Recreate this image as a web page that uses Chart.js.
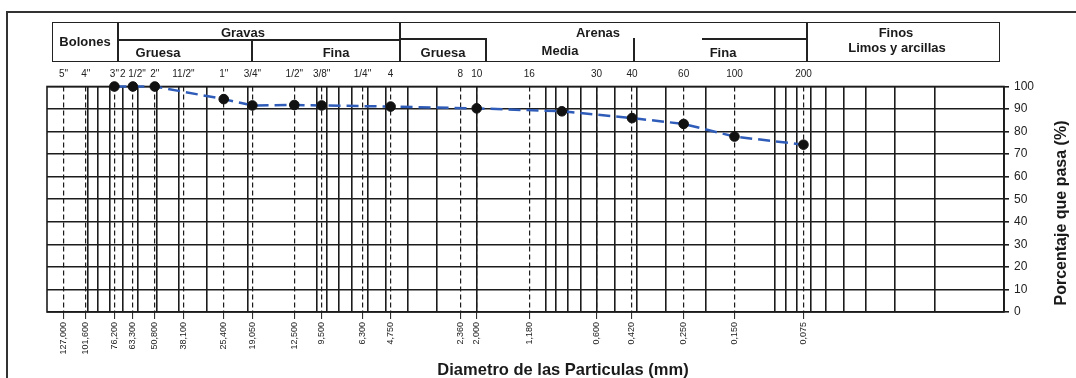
<!DOCTYPE html>
<html>
<head>
<meta charset="utf-8">
<title>Curva granulométrica</title>
<script src="https://cdn.jsdelivr.net/npm/chart.js@4.4.1/dist/chart.umd.min.js"></script>
<style>
  html, body { margin: 0; padding: 0; background: #ffffff; }
  #sheet { position: relative; width: 1076px; height: 378px; overflow: hidden;
           font-family: "Liberation Sans", Arial, sans-serif; color: #1a1a1a; }
  #chart { position: absolute; left: 0; top: 0; }
  .frame { position: absolute; left: 6px; top: 11px; width: 1200px; height: 500px;
           border-left: 2px solid #333; border-top: 2px solid #333; }
  .hl, .vl { position: absolute; background: #222; }
  .hl { height: 1.5px; }
  .vl { width: 1.5px; }
  .box { position: absolute; border: 1.5px solid #222; box-sizing: border-box; }
  .t { position: absolute; transform: translate(-50%, -50%); white-space: nowrap;
       font-weight: bold; font-size: 13px; line-height: 1; }
  .xtitle { position: absolute; left: 563px; top: 369px; transform: translate(-50%, -50%);
            font-weight: bold; font-size: 16.5px; white-space: nowrap; line-height: 1; }
  .ytitle { position: absolute; left: 1061px; top: 213px; transform: translate(-50%, -50%) rotate(-90deg);
            font-weight: bold; font-size: 16px; white-space: nowrap; line-height: 1; }
</style>
</head>
<body>
<div id="sheet">
  <canvas id="chart" width="1076" height="378"></canvas>
  <div class="frame"></div>

  <!-- soil classification header -->
  <div class="box" style="left:52px; top:22px; width:948px; height:40px;"></div>
  <div class="vl" style="left:117px; top:22px; height:40px;"></div>
  <div class="vl" style="left:399px; top:22px; height:40px;"></div>
  <div class="vl" style="left:806px; top:22px; height:40px;"></div>
  <div class="hl" style="left:117px; top:39px; width:283px;"></div>
  <div class="hl" style="left:399px; top:38px; width:88px;"></div>
  <div class="hl" style="left:702px; top:38px; width:105px;"></div>
  <div class="vl" style="left:251px; top:39px; height:23px;"></div>
  <div class="vl" style="left:485px; top:38px; height:24px;"></div>
  <div class="vl" style="left:633px; top:38px; height:24px;"></div>

  <div class="t" style="left:85px; top:41px;">Bolones</div>
  <div class="t" style="left:243px; top:32px;">Gravas</div>
  <div class="t" style="left:158px; top:52px;">Gruesa</div>
  <div class="t" style="left:336px; top:52px;">Fina</div>
  <div class="t" style="left:598px; top:32px;">Arenas</div>
  <div class="t" style="left:443px; top:52px;">Gruesa</div>
  <div class="t" style="left:560px; top:50px;">Media</div>
  <div class="t" style="left:723px; top:52px;">Fina</div>
  <div class="t" style="left:896px; top:32px;">Finos</div>
  <div class="t" style="left:897px; top:47px;">Limos y arcillas</div>

  <div class="xtitle">Diametro de las Particulas (mm)</div>
  <div class="ytitle">Porcentaje que pasa (%)</div>
</div>

<script>
// Sieve openings (mm) with their printed size and designation
const SIEVE_MM = [127, 101.6, 76.2, 63.3, 50.8, 38.1, 25.4, 19.05, 12.5, 9.5,
                  6.3, 4.75, 2.36, 2.0, 1.18, 0.6, 0.42, 0.25, 0.15, 0.075];
const SIEVE_MM_LABELS = ["127,000", "101,600", "76,200", "63,300", "50,800", "38,100",
                         "25,400", "19,050", "12,500", "9,500", "6,300", "4,750",
                         "2,360", "2,000", "1,180", "0,600", "0,420", "0,250", "0,150", "0,075"];
const SIEVE_NAMES = ['5"', '4"', '3"', '2 1/2"', '2"', '11/2"', '1"', '3/4"', '1/2"', '3/8"',
                     '1/4"', '4', '8', '10', '16', '30', '40', '60', '100', '200'];

// Logarithmic paper rulings (mm)
const LOG_GRID_MM = [0.01, 0.02, 0.03, 0.04, 0.05, 0.06, 0.07, 0.08, 0.09,
                     0.1, 0.2, 0.3, 0.4, 0.5, 0.6, 0.7, 0.8, 0.9,
                     1, 2, 3, 4, 5, 6, 7, 8, 9,
                     10, 20, 30, 40, 50, 60, 70, 80, 90, 100];

// Percent passing ticks
const PERCENT_TICKS = [0, 10, 20, 30, 40, 50, 60, 70, 80, 90, 100];

// Measured gradation
const DIAMETER_MM = [76.2, 63.3, 50.8, 25.4, 19.05, 12.5, 9.5, 4.75, 2.0, 0.85, 0.42, 0.25, 0.15, 0.075];
const PASSING_PCT = [100, 100, 100, 94.4, 91.6, 91.8, 91.6, 91.1, 90.3, 89.0, 86.0, 83.4, 77.8, 74.2];

const X_MIN = 0.01;
const X_MAX = 150;
const INK = '#1c1c1c';
const FONT = '"Liberation Sans", Arial, sans-serif';

const useTicks = values => axis => { axis.ticks = values.map(v => ({ value: v })); };

const logAxis = extra => Object.assign({
  type: 'logarithmic', reverse: true, min: X_MIN, max: X_MAX, bounds: 'data'
}, extra);

// Outline of the plotting field
const fieldFrame = {
  id: 'fieldFrame',
  beforeDatasetsDraw(chart) {
    const { ctx, chartArea: a } = chart;
    ctx.save();
    ctx.strokeStyle = INK;
    ctx.lineWidth = 1.6;
    ctx.strokeRect(a.left, a.top, a.right - a.left, a.bottom - a.top);
    ctx.restore();
  }
};

new Chart(document.getElementById('chart'), {
  type: 'scatter',
  data: {
    datasets: [{
      data: DIAMETER_MM.map((d, i) => ({ x: d, y: PASSING_PCT[i] })),
      showLine: true,
      borderColor: '#2f5cb8',
      borderWidth: 2.5,
      borderDash: [12, 6],
      pointRadius: 4.8,
      pointBackgroundColor: '#111',
      pointBorderColor: '#111',
      pointBorderWidth: 1,
      clip: false,
      xAxisID: 'x',
      yAxisID: 'y'
    }]
  },
  options: {
    responsive: false,
    devicePixelRatio: 1,
    animation: false,
    layout: { padding: { left: 47, top: 0, right: 0, bottom: 0 } },
    plugins: { legend: { display: false }, tooltip: { enabled: false } },
    scales: {
      x: logAxis({
        position: 'bottom',
        afterBuildTicks: useTicks(SIEVE_MM),
        afterFit: s => { s.height = 66; },
        grid: { color: INK, lineWidth: 1.2, drawTicks: true, tickLength: 7, tickColor: INK, tickWidth: 1 },
        border: { display: false, dash: [5, 3] },
        ticks: {
          autoSkip: false, minRotation: 90, maxRotation: 90, padding: 3,
          color: '#222', font: { family: FONT, size: 9 },
          callback: (v, i) => SIEVE_MM_LABELS[i]
        }
      }),
      xTop: logAxis({
        position: 'top',
        afterBuildTicks: useTicks(SIEVE_MM),
        afterFit: s => { s.height = 86.5; },
        grid: { display: false, drawTicks: false },
        border: { display: false },
        ticks: {
          autoSkip: false, maxRotation: 0, minRotation: 0, padding: 6,
          color: '#222', font: { family: FONT, size: 10 },
          callback: (v, i) => SIEVE_NAMES[i]
        }
      }),
      xRuling: logAxis({
        position: 'bottom',
        afterBuildTicks: useTicks(LOG_GRID_MM),
        afterFit: s => { s.height = 0; },
        grid: { color: INK, lineWidth: 1.6, drawTicks: false },
        border: { display: false },
        ticks: { display: false }
      }),
      y: {
        type: 'linear',
        position: 'right',
        min: 0, max: 100,
        afterBuildTicks: useTicks(PERCENT_TICKS),
        afterFit: s => { s.width = 72; },
        grid: { color: INK, lineWidth: 1.6, drawTicks: true, tickLength: 5, tickColor: INK },
        border: { display: true, color: INK, width: 1.6 },
        ticks: { padding: 5, color: '#222', font: { family: FONT, size: 12 }, callback: v => String(v) }
      }
    }
  },
  plugins: [fieldFrame]
});
</script>
</body>
</html>
